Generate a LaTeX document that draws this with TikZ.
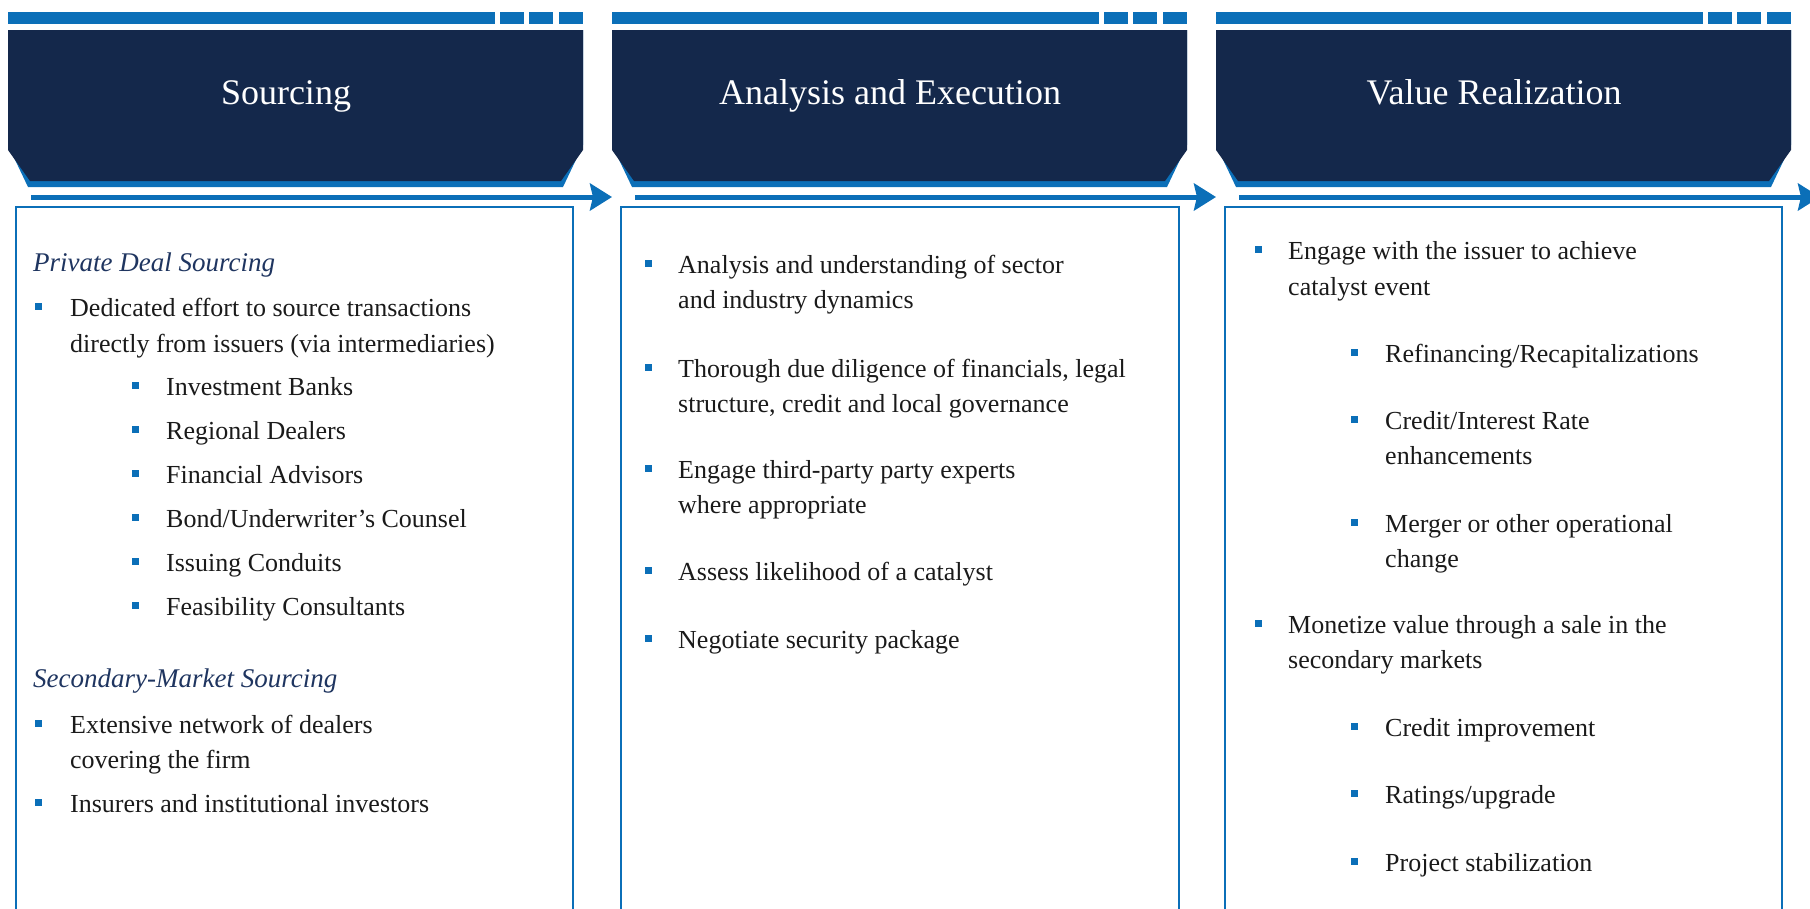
\documentclass[tikz,border=0pt]{standalone}
\usepackage{fontspec}
\setmainfont{Liberation Serif}
\usetikzlibrary{arrows.meta}

\definecolor{navy}{HTML}{14284B}
\definecolor{flowblue}{HTML}{0B6FB8}
\definecolor{headtext}{HTML}{1F3560}
\definecolor{bodytext}{HTML}{1A1A1A}

\tikzset{
  title/.style={anchor=base, text=white, inner sep=0pt, font=\fontsize{36}{40}\selectfont},
  subhead/.style={anchor=base west, text=headtext, inner sep=0pt, font=\fontsize{27}{32}\selectfont\itshape},
  item/.style={anchor=base west, text=bodytext, inner sep=0pt, font=\fontsize{26}{31}\selectfont},
  bul/.style={rectangle, fill=flowblue, minimum size=7pt, inner sep=0pt},
  flow/.style={flowblue, line width=5pt, -{Stealth[length=22pt,width=27pt,inset=3pt]}},
  frame/.style={flowblue, line width=2.5pt}
}

\begin{document}
\begin{tikzpicture}[x=1pt, y=-1pt]
  \useasboundingbox (0,0) rectangle (1810,908);

  % -=-=-=-=- HEADERS -=-=-=-=-
  \fill[flowblue] (8,12) rectangle (495,24);
  \fill[flowblue] (500,12) rectangle (524,24);
  \fill[flowblue] (529,12) rectangle (553,24);
  \fill[flowblue] (559,12) rectangle (583,24);
  \fill[flowblue] (8,30) -- (583,30) -- (583,145) -- (563,187) -- (28,187) -- (8,145) -- cycle;
  \fill[navy] (8,30) -- (583,30) -- (583,150) -- (561,181) -- (30,181) -- (8,150) -- cycle;
  \node[title] (t1) at (286,104) {Sourcing};

  \fill[flowblue] (612,12) rectangle (1099,24);
  \fill[flowblue] (1104,12) rectangle (1128,24);
  \fill[flowblue] (1133,12) rectangle (1157,24);
  \fill[flowblue] (1163,12) rectangle (1187,24);
  \fill[flowblue] (612,30) -- (1187,30) -- (1187,145) -- (1167,187) -- (632,187) -- (612,145) -- cycle;
  \fill[navy] (612,30) -- (1187,30) -- (1187,150) -- (1165,181) -- (634,181) -- (612,150) -- cycle;
  \node[title] (t2) at (890,104) {Analysis and Execution};

  \fill[flowblue] (1216,12) rectangle (1703,24);
  \fill[flowblue] (1708,12) rectangle (1732,24);
  \fill[flowblue] (1737,12) rectangle (1761,24);
  \fill[flowblue] (1767,12) rectangle (1791,24);
  \fill[flowblue] (1216,30) -- (1791,30) -- (1791,145) -- (1771,187) -- (1236,187) -- (1216,145) -- cycle;
  \fill[navy] (1216,30) -- (1791,30) -- (1791,150) -- (1769,181) -- (1238,181) -- (1216,150) -- cycle;
  \node[title] (t3) at (1494,104) {Value Realization};

  % -=-=-=-=- FLOW ARROWS -=-=-=-=-
  \coordinate (f1) at (31,197);
  \coordinate (e1) at (612,197);
  \coordinate (f2) at (635,197);
  \coordinate (e2) at (1216,197);
  \coordinate (f3) at (1239,197);
  \coordinate (e3) at (1820,197);
  \draw[flow] (f1) -- (e1);
  \draw[flow] (f2) -- (e2);
  \draw[flow] (f3) -- (e3);

  % -=-=-=-=- FRAMES -=-=-=-=-
  \draw[frame] (16,915) -- (16,207) -- (573,207) -- (573,915);
  \draw[frame] (621,915) -- (621,207) -- (1179,207) -- (1179,915);
  \draw[frame] (1225,915) -- (1225,207) -- (1782,207) -- (1782,915);

  % -=-=-=-=- SOURCING -=-=-=-=-
  \node[subhead] (pds) at (33,271) {Private Deal Sourcing};
  \node[bul] (ba) at (38.5,306) {};
  \node[item] (a1) at (70,316) {Dedicated effort to source transactions};
  \node[item] (a2) at (70,352) {directly from issuers (via intermediaries)};
  \node[bul] (bb) at (135,385) {};
  \node[item] (b) at (166,395) {Investment Banks};
  \node[bul] (bc) at (135,429) {};
  \node[item] (c) at (166,439) {Regional Dealers};
  \node[bul] (bd) at (135,473) {};
  \node[item] (d) at (166,483) {Financial Advisors};
  \node[bul] (be) at (135,517) {};
  \node[item] (e) at (166,527) {Bond/Underwriter’s Counsel};
  \node[bul] (bf) at (135,561) {};
  \node[item] (f) at (166,571) {Issuing Conduits};
  \node[bul] (bg) at (135,605) {};
  \node[item] (g) at (166,615) {Feasibility Consultants};
  \node[subhead] (sms) at (33,687) {Secondary-Market Sourcing};
  \node[bul] (bh) at (38.5,723) {};
  \node[item] (h1) at (70,733) {Extensive network of dealers};
  \node[item] (h2) at (70,768) {covering the firm};
  \node[bul] (bi) at (38.5,802) {};
  \node[item] (i) at (70,812) {Insurers and institutional investors};

  % -=-=-=-=- ANALYSIS AND EXECUTION -=-=-=-=-
  \node[bul] (bj) at (648,263) {};
  \node[item] (j1) at (678,273) {Analysis and understanding of sector};
  \node[item] (j2) at (678,308) {and industry dynamics};
  \node[bul] (bk) at (648,367) {};
  \node[item] (k1) at (678,377) {Thorough due diligence of financials, legal};
  \node[item] (k2) at (678,412) {structure, credit and local governance};
  \node[bul] (bl) at (648,468) {};
  \node[item] (l1) at (678,478) {Engage third-party party experts};
  \node[item] (l2) at (678,513) {where appropriate};
  \node[bul] (bm) at (648,570) {};
  \node[item] (m) at (678,580) {Assess likelihood of a catalyst};
  \node[bul] (bn) at (648,638) {};
  \node[item] (n) at (678,648) {Negotiate security package};

  % -=-=-=-=- VALUE REALIZATION -=-=-=-=-
  \node[bul] (bo) at (1258,249) {};
  \node[item] (o1) at (1288,259) {Engage with the issuer to achieve};
  \node[item] (o2) at (1288,295) {catalyst event};
  \node[bul] (bp) at (1354,352) {};
  \node[item] (p) at (1385,362) {Refinancing/Recapitalizations};
  \node[bul] (bq) at (1354,419) {};
  \node[item] (q1) at (1385,429) {Credit/Interest Rate};
  \node[item] (q2) at (1385,464) {enhancements};
  \node[bul] (br) at (1354,522) {};
  \node[item] (r1) at (1385,532) {Merger or other operational};
  \node[item] (r2) at (1385,567) {change};
  \node[bul] (bs) at (1258,623) {};
  \node[item] (s1) at (1288,633) {Monetize value through a sale in the};
  \node[item] (s2) at (1288,668) {secondary markets};
  \node[bul] (bt) at (1354,726) {};
  \node[item] (t) at (1385,736) {Credit improvement};
  \node[bul] (bu) at (1354,793) {};
  \node[item] (u) at (1385,803) {Ratings/upgrade};
  \node[bul] (bv) at (1354,861) {};
  \node[item] (v) at (1385,871) {Project stabilization};
\end{tikzpicture}
\end{document}
